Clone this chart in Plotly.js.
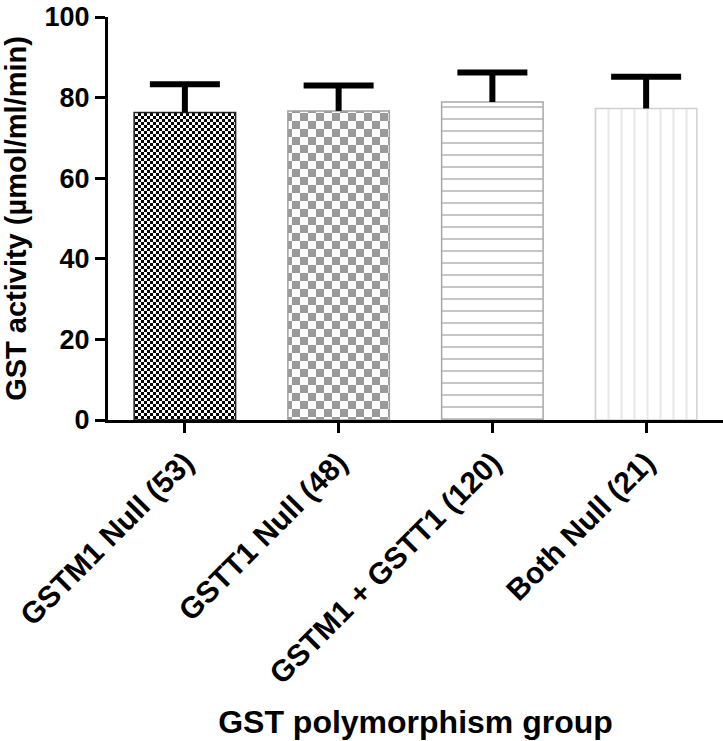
<!DOCTYPE html>
<html>
<head>
<meta charset="utf-8">
<script src="https://cdn.plot.ly/plotly-3.0.1.min.js"></script>
<style>
  html, body { margin: 0; padding: 0; background: #ffffff; }
  #chart { width: 723px; height: 741px; }
</style>
</head>
<body>
<div id="chart"></div>
<script>
// ---- data ----
const categories = ["GSTM1 Null (53)", "GSTT1 Null (48)", "GSTM1 + GSTT1 (120)", "Both Null (21)"];
const meanActivity = [76.3, 76.7, 78.9, 77.3];
const semActivity = [7.0, 6.3, 7.3, 7.9];
const yTickValues = [0, 20, 40, 60, 80, 100];
const xAxisTitle = "GST polymorphism group";
const yAxisTitle = "GST activity (µmol/ml/min)";

// ---- styles ----
const FONT = "Liberation Sans, Arial, sans-serif";
const patternShapes = [".", ".", "-", "|"];
const patternFg = ["#000000", "#9a9a9a", "#8a8a8a", "#d2d2d2"];
const patternSizes = [6, 16, 12, 13];
const patternSolidity = [0.5, 0.5, 0.16, 0.16];
const borderColors = ["#222222", "#a0a0a0", "#a8a8a8", "#d0d0d0"];
// checkerboard cell sizes for the first two bars (applied after render)
const checkerCells = [3, 8];

// error-bar stems built from the data arrays
const stemX = [], stemY = [];
categories.forEach((c, i) => {
  stemX.push(c, c, null);
  stemY.push(meanActivity[i], meanActivity[i] + semActivity[i], null);
});
const capY = meanActivity.map((m, i) => m + semActivity[i]);

const traces = [
  {
    type: "bar",
    x: categories,
    y: meanActivity,
    marker: {
      color: "#ffffff",
      line: { color: borderColors, width: 1.5 },
      pattern: {
        shape: patternShapes,
        fgcolor: patternFg,
        bgcolor: "#ffffff",
        size: patternSizes,
        solidity: patternSolidity,
        fillmode: "overlay"
      }
    },
    hoverinfo: "skip",
    showlegend: false
  },
  {
    type: "scatter",
    mode: "lines",
    x: stemX,
    y: stemY,
    line: { color: "#000000", width: 6 },
    connectgaps: false,
    hoverinfo: "skip",
    showlegend: false
  },
  {
    type: "scatter",
    mode: "markers",
    x: categories,
    y: capY,
    marker: {
      symbol: "line-ew",
      size: 50,
      color: "#000000",
      line: { color: "#000000", width: 6 }
    },
    hoverinfo: "skip",
    showlegend: false
  }
];

const layout = {
  width: 723,
  height: 741,
  margin: { l: 108, r: 0, t: 17, b: 321, pad: 0 },
  paper_bgcolor: "#ffffff",
  plot_bgcolor: "#ffffff",
  bargap: 0.34,
  font: { family: FONT, color: "#000000", weight: 700 },
  xaxis: {
    type: "category",
    range: [-0.5, 3.5],
    showline: true,
    linecolor: "#000000",
    linewidth: 3,
    ticks: "outside",
    ticklen: 10,
    tickwidth: 3,
    tickcolor: "#000000",
    tickangle: -45,
    tickfont: { family: FONT, size: 30, color: "#000000", weight: 700 },
    ticklabeloverflow: "allow",
    showgrid: false,
    zeroline: false,
    automargin: false,
    title: {
      text: xAxisTitle,
      font: { family: FONT, size: 32, color: "#000000", weight: 700 },
      standoff: 22
    }
  },
  yaxis: {
    range: [0, 100],
    tickvals: yTickValues,
    ticktext: yTickValues.map(String),
    showline: true,
    linecolor: "#000000",
    linewidth: 3,
    ticks: "outside",
    ticklen: 10,
    tickwidth: 3,
    tickcolor: "#000000",
    tickfont: { family: FONT, size: 27, color: "#000000", weight: 700 },
    ticklabeloverflow: "allow",
    showgrid: false,
    zeroline: false,
    automargin: false,
    title: {
      text: yAxisTitle,
      font: { family: FONT, size: 29, color: "#000000", weight: 700 },
      standoff: 26
    }
  },
  showlegend: false
};

function applyCheckerboards(gd) {
  const svg = gd.querySelector("svg.main-svg");
  if (!svg) return;
  const NS = "http://www.w3.org/2000/svg";
  let defs = svg.querySelector("defs");
  if (!defs) { defs = document.createElementNS(NS, "defs"); svg.insertBefore(defs, svg.firstChild); }
  const paths = gd.querySelectorAll(".barlayer .trace.bars .point path");
  checkerCells.forEach((cell, i) => {
    const path = paths[i];
    if (!path) return;
    const id = "checker-" + i;
    const pat = document.createElementNS(NS, "pattern");
    pat.setAttribute("id", id);
    pat.setAttribute("patternUnits", "userSpaceOnUse");
    pat.setAttribute("width", 2 * cell);
    pat.setAttribute("height", 2 * cell);
    const bg = document.createElementNS(NS, "rect");
    bg.setAttribute("x", 0); bg.setAttribute("y", 0);
    bg.setAttribute("width", 2 * cell); bg.setAttribute("height", 2 * cell);
    bg.setAttribute("fill", "#ffffff");
    pat.appendChild(bg);
    [[0, 0], [cell, cell]].forEach(([x, y]) => {
      const r = document.createElementNS(NS, "rect");
      r.setAttribute("x", x); r.setAttribute("y", y);
      r.setAttribute("width", cell); r.setAttribute("height", cell);
      r.setAttribute("fill", patternFg[i]);
      r.setAttribute("shape-rendering", "crispEdges");
      pat.appendChild(r);
    });
    defs.appendChild(pat);
    path.style.fill = "url(#" + id + ")";
    path.style.fillOpacity = 1;
  });
}

Plotly.newPlot("chart", traces, layout, { staticPlot: true, displayModeBar: false })
  .then(gd => applyCheckerboards(gd));
</script>
</body>
</html>
